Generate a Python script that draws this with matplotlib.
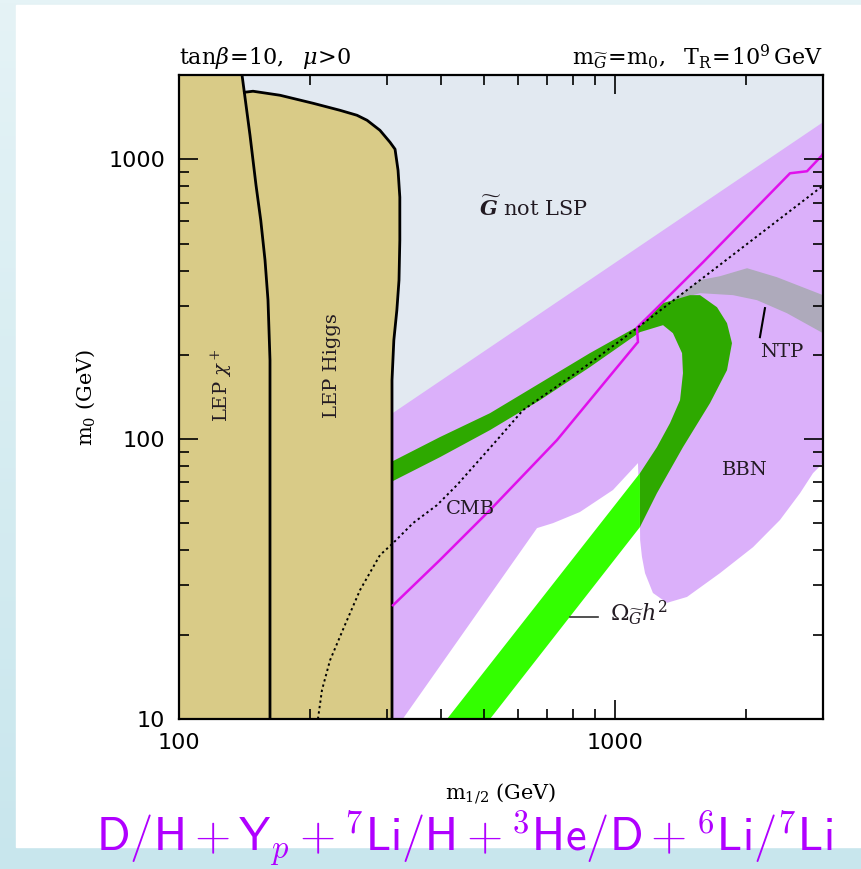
# Gravitino dark matter plane: tan(beta)=10, mu>0, with BBN / CMB / NTP regions

import numpy as np
import matplotlib.pyplot as plt
from matplotlib.patches import Rectangle
from matplotlib.colors import LinearSegmentedColormap
from matplotlib.ticker import NullFormatter

plt.rcParams['mathtext.fontset'] = 'dejavuserif'

# boundaries, as (m_1/2, m_0) in GeV
chargino_x = [139.5, 145.5, 150.2, 154, 157.5, 160, 161.7, 161.7]
chargino_y = [2000, 1218, 807, 605, 436, 314, 191.5, 10]

higgs_x = [141.3, 147.8, 170.5, 203, 234, 256, 270, 289, 304.8, 313, 318, 321,
           321, 319.6, 316, 311, 308, 308]
higgs_y = [1735, 1750, 1693, 1585, 1496, 1436, 1378, 1269, 1150, 1086, 913, 732,
           513.6, 369.8, 289, 225.7, 162.4, 10]

bbn_upper_x = [300, 3000]
bbn_upper_y = [120, 1356]

white_x = [326, 662.5, 720.8, 831, 989.5, 1129, 1141, 1142, 1153, 1172, 1222, 1316,
           1463, 1741, 2073, 2390, 2657, 2846, 3000, 3000]
white_y = [10, 48.1, 50.1, 54.9, 65.8, 82.1, 50.1, 43.6, 38, 33.2, 28.2, 26.0,
           27.3, 33.2, 41.1, 51.4, 64.1, 75.6, 82.1, 10]

ntp_x = [1123, 1567, 1741, 2009, 2352, 3000, 3000, 2480, 2117, 1865, 1567, 1289]
ntp_y = [255.4, 370, 382, 408, 379, 326.9, 239.1, 281.8, 313.7, 326.9, 332.3, 306]

# relic density band: straight part (outside BBN) and the bent part (inside BBN)
omega_lo_x = [411.9, 1141, 1141, 516.8]
omega_lo_y = [10, 75.6, 48.5, 10]

omega_hi_x = [1141, 1248, 1432, 1652, 1807, 1855, 1807, 1714, 1567, 1486, 1289, 1141,
              876, 673, 516.8, 396.8, 305, 305, 396.8, 516.8, 673, 876, 1141, 1289,
              1358, 1425, 1432, 1410, 1337, 1248, 1141]
omega_hi_y = [48.5, 64.1, 93.6, 134.5, 176.4, 220.2, 259.6, 296, 326.9, 326.9, 306, 255.4,
              202.9, 158.5, 123.8, 101.7, 82.5, 70, 86.2, 107.7, 137.8, 180.8, 241.1, 255.4,
              239.1, 202.9, 172.1, 137.8, 114, 93.6, 75.6]

cmb_x = [309.7, 396.8, 516.8, 736, 1123, 1129, 1123, 1592, 2520, 2757, 2985, 3000]
cmb_y = [25.5, 37.0, 55.8, 99.2, 220.2, 222, 250, 428.6, 891, 906, 1033, 1050]

dotted_x = [208.3, 212.8, 222, 240.3, 260.2, 289, 309.7, 344.1, 390.6, 434, 536, 615,
            876, 1123, 1567, 2907, 3000]
dotted_y = [10, 12.7, 16.2, 21.7, 28.9, 38.5, 42.5, 50.1, 58.1, 68.5, 99.2, 126.9,
            186.8, 249.2, 370, 775, 801]


def _main():
    fig = plt.figure(figsize=(8.61, 8.69), dpi=100)

    # slide background
    bg = fig.add_axes([0, 0, 1, 1], zorder=-10)
    grad = np.linspace(0, 1, 256).reshape(-1, 1)
    cmap = LinearSegmentedColormap.from_list('bg', ['#e5f3f6', '#c8e6ed'])
    bg.imshow(grad, aspect='auto', cmap=cmap, extent=[0, 1, 0, 1])
    bg.add_patch(Rectangle((16 / 861, 1 - 847 / 869), 1, 842 / 869,
                           color='white', transform=bg.transAxes))
    bg.set_xlim(0, 1)
    bg.set_ylim(0, 1)
    bg.axis('off')

    ax = fig.add_axes([179 / 861, 1 - 719 / 869, 644 / 861, 644 / 869])
    ax.set_xscale('log')
    ax.set_yscale('log')
    ax.set_xlim(100, 3000)
    ax.set_ylim(10, 2000)
    ax.set_facecolor('#e2e9f1')

    # BBN excluded region, with the allowed (white) hole cut out
    bx = bbn_upper_x + [3000, 300]
    by = bbn_upper_y + [10, 10]
    ax.fill(bx, by, color='#dbb0fa', lw=0, zorder=1)
    ax.fill(white_x, white_y, color='white', lw=0, zorder=2)

    ax.fill(ntp_x, ntp_y, color='#aeaabb', lw=0, zorder=3)
    ax.fill(omega_hi_x, omega_hi_y, color='#2ea900', lw=0, zorder=4)
    ax.fill(omega_lo_x, omega_lo_y, color='#33ff00', lw=0, zorder=4)

    # LEP exclusions
    tx = [100, 100, 139.5] + higgs_x
    ty = [10, 2000, 2000] + higgs_y
    ax.fill(tx, ty, color='#d9cb87', lw=0, zorder=5)
    ax.plot(chargino_x, chargino_y, color='black', lw=2, zorder=6)
    ax.plot(higgs_x, higgs_y, color='black', lw=2, zorder=6, solid_joinstyle='round')

    ax.plot(cmb_x, cmb_y, color='#e010ec', lw=1.8, zorder=7)
    ax.plot(dotted_x, dotted_y, color='black', lw=1.4, ls=(0, (1.2, 1.6)), zorder=7)

    # labels inside the plane
    lab = dict(family='DejaVu Serif', fontsize=14, color='#221a22', zorder=8)
    ax.text(125.5, 156, r'LEP $\chi^+$', rotation=90, ha='center', va='center', **lab)
    ax.text(224, 183.8, 'LEP Higgs', rotation=90, ha='center', va='center', **lab)
    ax.text(465, 56.2, 'CMB', ha='center', va='center', **lab)
    ax.text(1987, 77.5, 'BBN', ha='center', va='center', **lab)
    ax.text(2415, 204.5, 'NTP', ha='center', va='center', **lab)
    ax.text(649, 674, r'$\widetilde{\boldsymbol{G}}$ not LSP', ha='center', va='center',
            family='DejaVu Serif', fontsize=15, color='#221a22', zorder=8)
    ax.text(974, 23.9, r'$\Omega_{\widetilde{G}}h^2$', ha='left', va='center',
            family='DejaVu Serif', fontsize=16, color='#221a22', zorder=8)
    ax.plot([2208, 2150], [293.8, 231.4], color='black', lw=1.5, zorder=8)
    ax.plot([788.5, 914], [23.1, 23.1], color='#333333', lw=1.2, zorder=8)

    # frame and ticks drawn above the filled regions
    ax.xaxis.set_zorder(11)
    ax.yaxis.set_zorder(11)
    for s in ax.spines.values():
        s.set_linewidth(1.6)
        s.set_zorder(10)
    ax.tick_params(which='both', direction='in', top=True, right=True, width=1.2,
                   labelsize=16, pad=10)
    ax.tick_params(which='major', length=14)
    ax.tick_params(which='minor', length=7)
    ax.xaxis.set_minor_formatter(NullFormatter())
    ax.yaxis.set_minor_formatter(NullFormatter())
    ax.set_xticks([100, 1000])
    ax.set_xticklabels(['100', '1000'])
    ax.set_yticks([10, 100, 1000])
    ax.set_yticklabels(['10', '100', '1000'])

    ax.set_xlabel(r'$\mathrm{m}_{1/2}$ (GeV)', family='DejaVu Serif', fontsize=15, labelpad=20)
    ax.set_ylabel(r'$\mathrm{m}_0$ (GeV)', family='DejaVu Serif', fontsize=15, labelpad=8)

    ax.text(0.0, 1.006, r'$\tan\!\beta\!=\!10,\ \ \mu\!>\!0$', transform=ax.transAxes,
            ha='left', va='bottom', family='DejaVu Serif', fontsize=16)
    ax.text(1.0, 1.006, r'$\mathrm{m}_{\widetilde{G}}\!=\!\mathrm{m}_0,\ \ \mathrm{T}_\mathrm{R}\!=\!10^9\,\mathrm{GeV}$',
            transform=ax.transAxes, ha='right', va='bottom', family='DejaVu Serif', fontsize=16)

    fig.text(0.5395, 0.0196,
             r'$\mathsf{D/H}+\mathsf{Y}_p+{}^7\mathsf{Li/H}+{}^3\mathsf{He/D}+{}^6\mathsf{Li}/{}^7\mathsf{Li}$',
             ha='center', va='baseline', fontsize=33.6, color='#b000ff', math_fontfamily='cm')

    fig.savefig('out.png', dpi=100)


if __name__ == '__main__':
    _main()
